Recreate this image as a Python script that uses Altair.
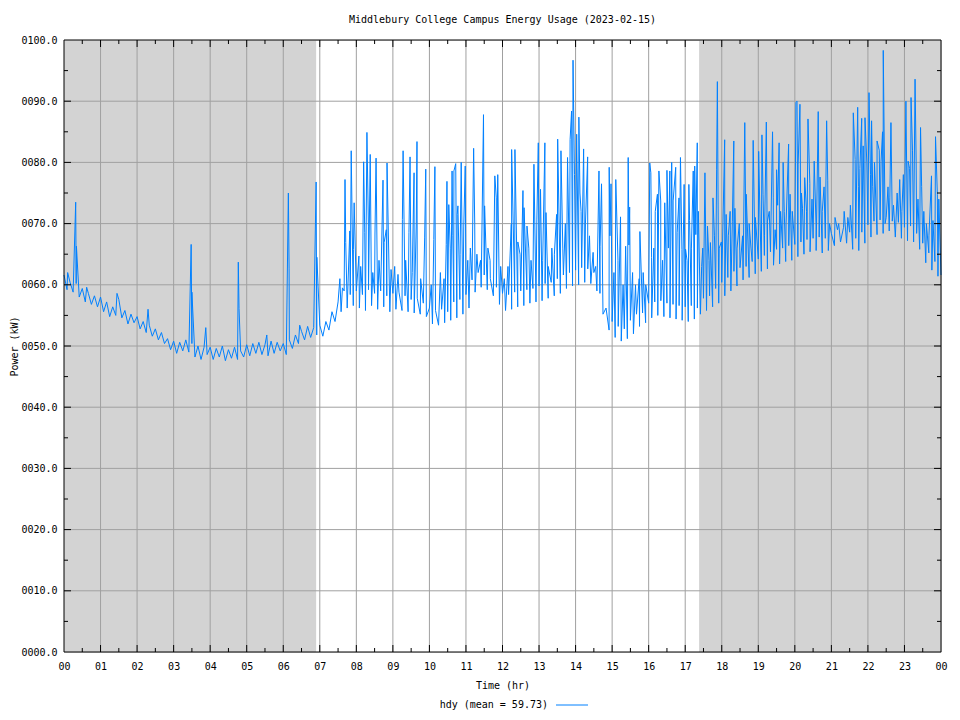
import altair as alt
import pandas as pd

# ---------------- data ----------------
title_text = "Middlebury College Campus Energy Usage (2023-02-15)"
legend_label = "hdy (mean = 59.73)"

hour_ticks = list(range(25))
value_ticks = list(range(0, 101, 10))
minor_hours = [h + 0.5 for h in range(24)]
minor_values = list(range(5, 100, 10))

night_start = [0.0, 17.38]
night_end = [6.9, 24.0]

# baseline power (kW), one value every 5 minutes, 12 per hour
base_h00 = [61.6, 59.2, 60.4, 58.8, 60.2, 58.0, 59.4, 57.2, 58.6, 56.8, 58.2, 56.4]
base_h01 = [58.0, 55.6, 57.2, 54.8, 56.4, 55.0, 57.6, 54.6, 55.8, 53.6, 55.2, 53.8]
base_h02 = [54.8, 52.8, 54.0, 52.2, 53.4, 51.6, 52.8, 51.0, 52.2, 50.4, 51.2, 49.4]
base_h03 = [50.8, 48.8, 50.6, 49.2, 51.0, 49.0, 50.4, 48.2, 50.0, 47.8, 49.8, 48.6]
base_h04 = [49.8, 47.8, 49.6, 48.2, 50.0, 47.6, 49.4, 48.0, 49.8, 47.8, 49.2, 48.2]
base_h05 = [50.2, 48.4, 50.4, 48.8, 50.6, 48.6, 50.2, 48.4, 50.8, 48.8, 50.6, 49.2]
base_h06 = [50.4, 48.6, 51.0, 49.6, 51.8, 50.4, 52.4, 51.0, 53.2, 51.4, 53.0, 51.8]
base_h07 = [53.4, 51.6, 54.0, 52.6, 55.6, 54.0, 57.2, 55.6, 59.0, 56.2, 58.4, 56.6]
base_h08 = [59.0, 56.2, 58.4, 55.8, 59.2, 56.6, 58.6, 56.0, 59.0, 56.4, 58.2, 55.6]
base_h09 = [58.6, 56.0, 58.8, 55.8, 58.2, 55.6, 57.6, 55.4, 57.8, 55.2, 57.0, 54.8]
base_h10 = [56.2, 53.6, 55.8, 53.4, 56.0, 53.8, 55.6, 54.2, 57.2, 54.6, 57.6, 55.2]
base_h11 = [58.4, 56.2, 60.8, 58.8, 62.0, 59.6, 61.6, 59.2, 61.0, 58.2, 59.6, 56.8]
base_h12 = [58.6, 55.8, 58.4, 56.0, 58.8, 56.4, 59.0, 56.6, 59.2, 57.0, 59.4, 57.2]
base_h13 = [59.8, 57.4, 60.2, 57.8, 60.4, 58.2, 61.0, 58.6, 61.6, 59.4, 62.0, 59.8]
base_h14 = [62.4, 60.0, 62.8, 60.4, 62.6, 60.2, 62.0, 59.0, 58.6, 55.2, 56.2, 52.6]
base_h15 = [54.0, 51.4, 53.2, 50.8, 52.8, 51.2, 54.2, 52.0, 55.2, 53.2, 55.4, 53.8]
base_h16 = [57.0, 54.6, 57.2, 55.0, 57.4, 54.8, 57.0, 54.6, 56.8, 54.4, 56.6, 54.2]
base_h17 = [56.4, 54.0, 56.6, 54.4, 56.2, 55.2, 57.8, 55.8, 58.2, 56.4, 59.4, 57.0]
base_h18 = [60.4, 58.2, 61.2, 59.0, 62.2, 59.8, 62.8, 60.8, 63.0, 61.2, 63.8, 61.8]
base_h19 = [64.2, 62.2, 64.8, 62.6, 65.4, 63.2, 65.8, 63.4, 66.0, 63.8, 66.4, 64.0]
base_h20 = [66.6, 64.6, 67.0, 65.0, 67.4, 65.4, 67.6, 65.6, 67.8, 65.2, 67.6, 65.6]
base_h21 = [68.4, 66.4, 69.0, 67.0, 69.4, 66.8, 68.6, 65.8, 67.6, 65.6, 68.6, 66.8]
base_h22 = [69.8, 67.8, 70.4, 68.2, 70.6, 68.4, 71.0, 68.8, 70.4, 67.8, 70.2, 67.6]
base_h23 = [69.4, 67.2, 69.6, 67.0, 68.4, 65.8, 66.8, 63.6, 65.2, 62.4, 63.8, 61.4]
base_end = [61.6]

# tall spikes: hour of day and peak power (kW)
spike_hours = [
    0.32, 0.34, 3.48, 3.50, 3.88, 4.77, 4.79, 6.14, 6.16, 6.90, 6.92,
    7.69, 7.71, 7.82, 7.86, 7.92, 7.94,
    8.07, 8.20, 8.23, 8.29, 8.33, 8.38, 8.51, 8.54, 8.73, 8.76, 8.82, 8.84,
    9.14, 9.26, 9.28, 9.44, 9.47, 9.58, 9.64, 9.66, 9.87, 9.90,
    10.12, 10.15, 10.46, 10.48, 10.53, 10.62, 10.64, 10.67, 10.72, 10.76, 10.78, 10.87, 10.94, 10.98,
    11.21, 11.24, 11.48, 11.51, 11.79, 11.83, 11.87,
    12.24, 12.25, 12.34, 12.42, 12.56, 12.59, 12.67, 12.86, 12.94, 12.98,
    13.04, 13.16, 13.19, 13.48, 13.51, 13.60, 13.78, 13.85, 13.89, 13.93, 13.97,
    14.03, 14.09, 14.15, 14.22, 14.33, 14.48, 14.64, 14.67, 14.71, 14.92, 14.94, 14.97,
    15.10, 15.23, 15.37, 15.44, 15.46, 15.48, 15.74, 15.76,
    16.03, 16.06, 16.08, 16.24, 16.28, 16.33, 16.44, 16.50, 16.58, 16.63, 16.67, 16.74, 16.78,
    16.83, 16.87, 16.91, 16.97,
    17.01, 17.10, 17.12, 17.22, 17.26, 17.29, 17.33, 17.36, 17.54, 17.61, 17.69, 17.76, 17.86, 17.88, 17.99,
    18.08, 18.12, 18.29, 18.33, 18.36, 18.63, 18.67, 18.86,
    19.01, 19.10, 19.13, 19.22, 19.25, 19.39, 19.41, 19.50, 19.57, 19.61, 19.68, 19.71, 19.83, 19.87,
    20.03, 20.06, 20.09, 20.14, 20.21, 20.27, 20.36, 20.41, 20.53, 20.64, 20.69, 20.87, 20.90,
    21.60, 21.65, 21.72, 21.74, 21.83, 21.87, 21.92,
    22.03, 22.10, 22.13, 22.25, 22.31, 22.36, 22.40, 22.42, 22.47, 22.60, 22.63, 22.87,
    23.04, 23.10, 23.18, 23.29, 23.32, 23.44, 23.47, 23.74, 23.78, 23.85, 23.90,
]
spike_values = [
    73.5, 66.3, 66.6, 58.8, 53.0, 63.7, 56.1, 75.0, 62.6, 76.8, 64.5,
    77.2, 66.9, 68.8, 81.9, 65.8, 73.4,
    64.7, 80.1, 68.5, 84.9, 69.6, 81.3, 68.3, 80.7, 77.1, 66.9, 69.0, 79.9,
    61.7, 70.7, 81.9, 68.5, 80.9, 78.3, 70.0, 83.4, 67.8, 78.9,
    67.4, 79.3, 66.6, 76.9, 73.1, 78.6, 68.0, 78.6, 79.8, 71.5, 72.9, 80.0, 69.6, 79.4,
    82.3, 70.0, 87.8, 72.9, 77.8, 74.2, 78.0,
    69.9, 82.1, 82.1, 67.0, 75.4, 72.6, 69.6, 79.7, 70.6, 83.2,
    75.6, 83.2, 71.8, 71.5, 83.8, 81.9, 80.8, 83.7, 88.4, 96.7, 78.0,
    84.6, 87.4, 72.0, 82.2, 80.9, 65.3, 78.6, 66.3, 76.5, 79.2, 68.0, 76.5,
    77.2, 71.1, 66.3, 80.8, 66.5, 72.7, 61.0, 68.7,
    79.9, 78.3, 64.5, 74.8, 78.6, 73.7, 73.4, 78.7, 78.6, 80.0, 73.7, 79.2, 68.5,
    74.2, 80.8, 65.8, 76.4,
    65.8, 76.4, 70.5, 78.6, 79.4, 68.2, 83.2, 72.0, 78.3, 69.6, 66.9, 74.2, 78.9, 93.2, 67.0,
    83.7, 71.5, 70.4, 83.5, 72.5, 86.5, 74.8, 83.6,
    81.8, 84.5, 74.8, 86.6, 70.4, 85.0, 74.2, 78.8, 83.2, 72.0, 80.0, 72.0, 83.0, 74.8,
    89.8, 90.0, 79.6, 89.5, 72.5, 77.5, 87.1, 76.6, 80.2, 88.3, 77.6, 86.8, 77.1,
    88.1, 80.5, 89.0, 76.1, 87.2, 82.7, 87.3,
    91.4, 86.8, 76.1, 83.5, 82.0, 80.2, 85.0, 98.3, 70.0, 74.2, 86.5, 77.2,
    90.0, 80.2, 90.6, 93.6, 80.2, 85.7, 76.1, 77.8, 70.5, 84.2, 74.8,
]

# smaller spikes filling the busy hours
small_spike_hours = [
    0.10, 0.62, 1.45, 2.30, 5.55, 6.45,
    7.55, 7.62, 8.12, 8.45, 8.62, 8.95, 9.05, 9.35, 9.53, 9.76, 10.05, 10.30, 10.40,
    10.57, 10.84, 11.05, 11.12, 11.30, 11.40, 11.60, 11.66, 11.95, 12.05, 12.15, 12.48,
    12.72, 12.78, 13.10, 13.25, 13.35, 13.42, 13.65, 13.72, 14.12, 14.27, 14.38, 14.55,
    15.05, 15.16, 15.30, 15.56, 15.64, 15.85, 15.92, 16.14, 16.18, 16.38, 16.54, 17.05,
    17.17, 17.45, 17.48, 17.65, 17.80, 17.93, 18.18, 18.23, 18.42, 18.48, 18.57, 18.75,
    18.80, 18.92, 19.05, 19.17, 19.30, 19.46, 19.53, 19.76, 19.93, 20.18, 20.32, 20.47,
    20.58, 20.75, 20.80, 20.95, 21.10, 21.20, 21.35, 21.45, 21.52, 21.78, 21.97, 22.07,
    22.18, 22.55, 22.70, 22.80, 22.93, 22.97, 23.14, 23.22, 23.37, 23.53, 23.60, 23.67, 23.94,
]
small_spike_values = [
    62.0, 59.6, 58.6, 56.0, 51.8, 53.4,
    61.0, 59.5, 63.0, 62.0, 64.0, 62.5, 63.0, 64.0, 62.0, 61.0, 60.0, 62.0, 61.0,
    66.0, 65.0, 64.0, 66.0, 65.0, 64.0, 66.0, 64.0, 63.0, 61.0, 63.0, 65.0,
    66.0, 64.0, 64.0, 63.0, 66.0, 65.0, 66.0, 70.0, 75.0, 70.0, 68.0, 63.0,
    62.0, 64.0, 60.0, 62.0, 60.0, 62.0, 60.0, 66.0, 72.0, 64.0, 66.0, 64.0,
    66.0, 63.0, 66.0, 64.0, 68.0, 66.0, 68.0, 72.0, 66.0, 70.0, 68.0, 70.0,
    66.0, 71.0, 70.0, 68.0, 72.0, 69.0, 73.0, 70.0, 72.0, 75.0, 72.0, 74.0,
    70.0, 72.0, 76.0, 70.0, 71.0, 70.0, 72.0, 71.0, 73.0, 79.0, 80.0, 78.0,
    80.0, 76.0, 73.0, 75.0, 72.0, 78.0, 79.0, 82.0, 74.0, 72.0, 70.0, 68.0, 74.0,
]

# ---------------- tables ----------------
baseline = (base_h00 + base_h01 + base_h02 + base_h03 + base_h04 + base_h05 + base_h06
            + base_h07 + base_h08 + base_h09 + base_h10 + base_h11 + base_h12 + base_h13
            + base_h14 + base_h15 + base_h16 + base_h17 + base_h18 + base_h19 + base_h20
            + base_h21 + base_h22 + base_h23 + base_end)
base_df = pd.DataFrame({"t": [i / 12 for i in range(len(baseline))], "kw": baseline})
spike_df = pd.DataFrame({"t": spike_hours, "kw": spike_values})
small_df = pd.DataFrame({"t": small_spike_hours, "kw": small_spike_values})
power = pd.concat([base_df, spike_df, small_df]).sort_values("t", kind="stable").reset_index(drop=True)

night = pd.DataFrame({"start": night_start, "end": night_end})
vgrid = pd.DataFrame({"h": hour_ticks[1:-1]})
hgrid = pd.DataFrame({"v": value_ticks[1:-1]})
xmaj = pd.DataFrame({"h": hour_ticks[1:-1]})
xmin = pd.DataFrame({"h": minor_hours})
ymaj = pd.DataFrame({"v": value_ticks[1:-1]})
ymin = pd.DataFrame({"v": minor_values})
legend_df = pd.DataFrame({"label": [legend_label]})

# ---------------- chart ----------------
W, H = 877, 612
FONT = "DejaVu Sans Mono"
xs = alt.Scale(domain=[0, 24], nice=False, zero=False)
ys = alt.Scale(domain=[0, 100], nice=False, zero=False)

x_axis = alt.Axis(
    values=hour_ticks, grid=False, ticks=False, tickSize=0, domain=False,
    labelExpr="(datum.value % 24 < 10 ? '0' : '') + (datum.value % 24)",
    labelOverlap=False, labelPadding=9, labelFont=FONT, labelFontSize=10,
    labelColor="black", labelFlush=False, labelSeparation=0,
    title="Time (hr)", titleFont=FONT, titleFontSize=10, titleFontWeight="normal",
    titleColor="black", titleY=33, titleBaseline="middle",
)
y_axis = alt.Axis(
    values=value_ticks, grid=False, ticks=False, tickSize=0, domain=False,
    labelExpr="format(datum.value, '06.1f')",
    labelOverlap=False, labelPadding=7, labelFont=FONT, labelFontSize=10,
    labelColor="black", labelFlush=False,
    title="Power (kW)", titleFont=FONT, titleFontSize=10, titleFontWeight="normal",
    titleColor="black", titleX=-50, titleY=H / 2, titleAngle=270,
    titleBaseline="middle", titleAlign="center",
)


def X(field):
    return alt.X(field, scale=xs, axis=x_axis)


def Y(field):
    return alt.Y(field, scale=ys, axis=y_axis)


shade = alt.Chart(night).mark_rect(color="#d3d3d3").encode(
    x=X("start:Q"), x2="end:Q", y=alt.value(0), y2=alt.value(H),
)
grid_color = "#a0a0a0"
gx = alt.Chart(vgrid).mark_rule(color=grid_color, strokeWidth=1).encode(x=X("h:Q"))
gy = alt.Chart(hgrid).mark_rule(color=grid_color, strokeWidth=1).encode(y=Y("v:Q"))

line = alt.Chart(power).mark_line(color="#0080ff", strokeWidth=1).encode(
    x=X("t:Q"), y=Y("kw:Q"))


def xticks(df, length):
    top = alt.Chart(df).mark_rule(color="black").encode(
        x=X("h:Q"), y=alt.value(0), y2=alt.value(length))
    bot = alt.Chart(df).mark_rule(color="black").encode(
        x=X("h:Q"), y=alt.value(H - length), y2=alt.value(H))
    return [top, bot]


def yticks(df, length):
    left = alt.Chart(df).mark_rule(color="black").encode(
        y=Y("v:Q"), x=alt.value(0), x2=alt.value(length))
    right = alt.Chart(df).mark_rule(color="black").encode(
        y=Y("v:Q"), x=alt.value(W - length), x2=alt.value(W))
    return [left, right]


tick_layers = xticks(xmaj, 7) + xticks(xmin, 4) + yticks(ymaj, 7) + yticks(ymin, 4)

border = alt.Chart(legend_df).mark_rect(filled=False, stroke="black", strokeWidth=1).encode(
    x=alt.value(0), x2=alt.value(W), y=alt.value(0), y2=alt.value(H))

legend_text = alt.Chart(legend_df).mark_text(
    font=FONT, fontSize=10, color="black", align="right", baseline="middle"
).encode(text="label:N", x=alt.value(484), y=alt.value(665))
legend_line = alt.Chart(legend_df).mark_rule(color="#0080ff", strokeWidth=1).encode(
    x=alt.value(492), x2=alt.value(524), y=alt.value(665))

chart = alt.layer(
    shade, gx, gy, line, *tick_layers, border, legend_text, legend_line
).properties(
    width=W, height=H,
    title=alt.TitleParams(title_text, font=FONT, fontSize=10, fontWeight="normal",
                          color="black", anchor="middle", offset=10),
    autosize=alt.AutoSizeParams(type="none"),
    padding={"left": 56, "top": 32, "right": 11, "bottom": 62},
).configure_view(stroke=None).configure_axis(
    labelOverlap=False
).configure(font=FONT, background="white")

chart.save("out.html", embed_options={"renderer": "svg", "actions": False})
